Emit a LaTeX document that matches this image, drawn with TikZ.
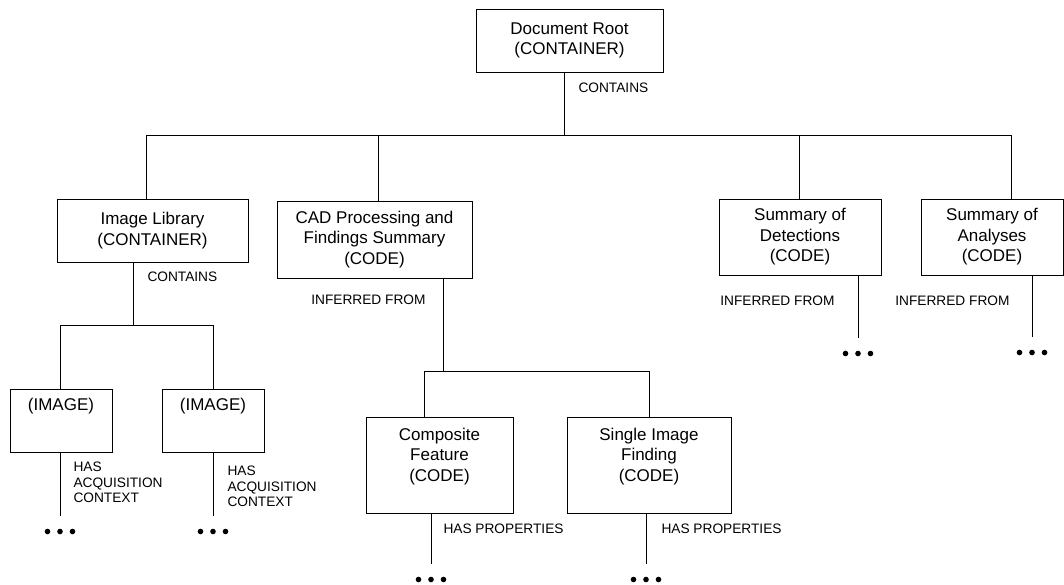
\documentclass[tikz,border=0pt]{standalone}
\usepackage{fontspec}
\setmainfont{Liberation Sans}
\newcommand{\moredots}[1]{\foreach \dx in {-12.5,0,12.5} {\fill ([shift={(\dx,16)}]#1) circle (2.8pt);}}
\begin{document}
\begin{tikzpicture}[x=1pt, y=-1pt, line width=1pt,
    box/.style={draw, align=center, inner sep=2pt, font=\fontsize{17}{20.5}\selectfont},
    lbl/.style={inner sep=0pt, align=left, font=\fontsize{13.7}{15.5}\selectfont}]
  \useasboundingbox (0,0) rectangle (1064,584);

  % Ebene 0
  \node[box, minimum width=187pt, minimum height=63pt] (root) at (569.5,40.5) {Document Root\\(CONTAINER)};

  % Ebene 1
  \node[box, minimum width=191pt, minimum height=63pt] (lib) at (152.5,230.5) {Image Library\\(CONTAINER)};
  \node[box, minimum width=195pt, minimum height=77pt] (cad) at (374.5,239.5) {CAD Processing and\\Findings Summary\\(CODE)};
  \node[box, minimum width=162pt, minimum height=76pt] (det) at (800,237) {Summary of\\Detections\\(CODE)};
  \node[box, minimum width=142pt, minimum height=76pt] (ana) at (992,237) {Summary of\\Analyses\\(CODE)};

  % Ebene 2
  \node[box, minimum width=102pt, minimum height=63pt] (img1) at (61,420.5) {(IMAGE)\\[12pt]~};
  \node[box, minimum width=102pt, minimum height=63pt] (img2) at (213,420.5) {(IMAGE)\\[12pt]~};
  \node[box, minimum width=147pt, minimum height=96pt] (comp) at (439.5,465) {Composite\\Feature\\(CODE)\\~};
  \node[box, minimum width=164pt, minimum height=96pt] (single) at (649,465) {Single Image\\Finding\\(CODE)\\~};

  % Root -> Ebene 1
  \draw ([xshift=-5.5pt]root.south) -- ++(0,63) node[lbl, pos=0.24, right=14pt] {CONTAINS} -| ([xshift=-6.5pt]lib.north);
  \draw ([xshift=-5.5pt]root.south) -- ++(0,63) -| ([xshift=3.5pt]cad.north);
  \draw ([xshift=-5.5pt]root.south) -- ++(0,63) -| ([xshift=-1pt]det.north);
  \draw ([xshift=-5.5pt]root.south) -- ++(0,63) -| ([xshift=19pt]ana.north);

  % Image Library -> Bilder
  \draw ([xshift=-19.5pt]lib.south) -- ++(0,63) node[lbl, pos=0.22, right=14pt] {CONTAINS} -| ([xshift=-1pt]img1.north);
  \draw ([xshift=-19.5pt]lib.south) -- ++(0,63) -| (img2.north);

  % CAD -> Befunde
  \draw ([xshift=68.5pt]cad.south) -- ++(0,93) node[lbl, pos=0.23, left=17pt] {INFERRED FROM} -| ([xshift=-15.5pt]comp.north);
  \draw ([xshift=68.5pt]cad.south) -- ++(0,93) -| (single.north);

  % offene Enden
  \draw ([xshift=-1pt]img1.south) -- ++(0,63) node[lbl, pos=0.48, right=13pt] {HAS\\ACQUISITION\\CONTEXT} coordinate (img1end);
  \draw (img2.south) -- ++(0,63) node[lbl, pos=0.54, right=14pt] {HAS\\ACQUISITION\\CONTEXT} coordinate (img2end);
  \draw ([xshift=-8.5pt]comp.south) -- ++(0,50) node[lbl, pos=0.3, right=12pt] {HAS PROPERTIES} coordinate (compend);
  \draw ([xshift=-3pt]single.south) -- ++(0,50) node[lbl, pos=0.3, right=15pt] {HAS PROPERTIES} coordinate (singleend);
  \draw ([xshift=58pt]det.south) -- ++(0,62) node[lbl, pos=0.4, left=23pt] {INFERRED FROM} coordinate (detend);
  \draw ([xshift=40pt]ana.south) -- ++(0,61) node[lbl, pos=0.41, left=22pt] {INFERRED FROM} coordinate (anaend);

  % Punkte
  \moredots{img1end}
  \moredots{img2end}
  \moredots{compend}
  \moredots{singleend}
  \moredots{detend}
  \moredots{anaend}
\end{tikzpicture}
\end{document}
